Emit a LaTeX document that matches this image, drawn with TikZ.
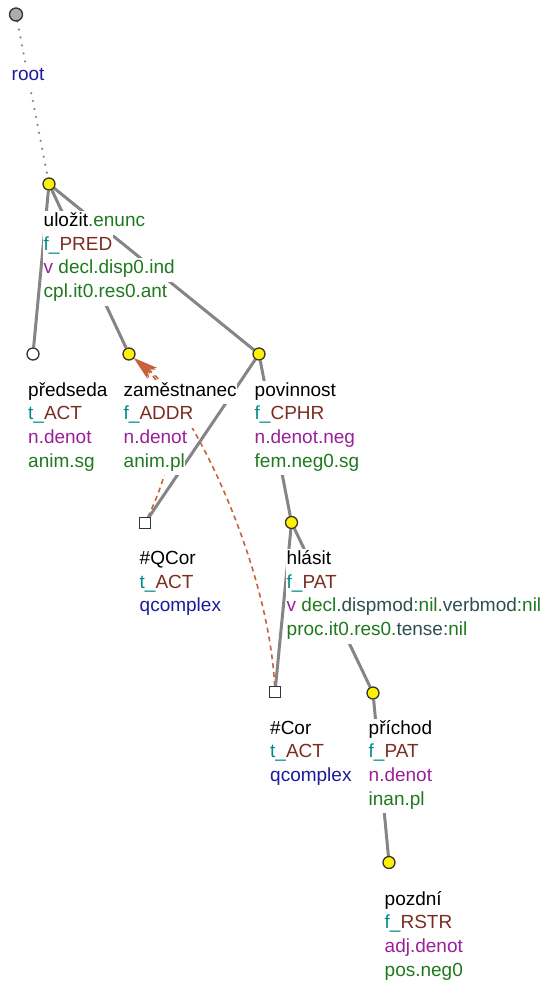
\documentclass[tikz,border=0pt]{standalone}
\usepackage{fontspec}
\setmainfont{Liberation Sans}
\usetikzlibrary{arrows.meta}
\definecolor{tcyan}{HTML}{008B8B}
\definecolor{tbrown}{HTML}{7B2D22}
\definecolor{tpurple}{HTML}{9B1F9B}
\definecolor{tgreen}{HTML}{1F7A1F}
\definecolor{tdark}{HTML}{2F4F4F}
\definecolor{tblue}{HTML}{1C1C9A}
\definecolor{edgegray}{HTML}{858585}
\definecolor{corefred}{HTML}{C8623C}
\pgfdeclarelayer{bg}
\pgfsetlayers{bg,main}

\begin{document}
\begin{tikzpicture}[x=1pt, y=-1pt, font=\fontsize{19}{23.7}\selectfont,
    tnode/.style={circle, draw=black!80, fill=yellow, line width=1.3pt, minimum size=12pt, inner sep=0pt},
    leafnode/.style={tnode, fill=white},
    rootnode/.style={tnode, fill=gray!65, minimum size=13pt},
    corsq/.style={rectangle, draw=black!80, fill=white, line width=1.2pt, minimum size=10.5pt, inner sep=0pt},
    tline/.style={anchor=base west, inner xsep=0.5pt, inner ysep=0pt, fill=white, text height=15.5pt, text depth=8.2pt},
    treeline/.style={draw=edgegray, line width=3pt},
    rootline/.style={draw=edgegray, line width=2.4pt, line cap=round, dash pattern=on 0.1pt off 8pt},
    coref/.style={draw=corefred, line width=1.6pt, dash pattern=on 5pt off 4pt, -{Stealth[length=24pt, width=13pt, inset=7pt, fill=corefred]}}]
  \useasboundingbox (0,0) rectangle (547,983);

  % tree nodes
  \node[rootnode] (root) at (16,14.5) {};
  \node[tnode] (ulozit) at (49,184) {};
  \node[leafnode] (predseda) at (33,354) {};
  \node[tnode] (zam) at (129,354) {};
  \node[tnode] (povin) at (259,354) {};
  \node[corsq] (qcor) at (145,523) {};
  \node[tnode] (hlasit) at (291.5,522.5) {};
  \node[corsq] (cor) at (275,692) {};
  \node[tnode] (prichod) at (373,693) {};
  \node[tnode] (pozdni) at (389,862.5) {};

  % labels
  \node[tline, text=tblue] (rootA) at (11,80) {root};

  \node[tline] (ulozitA) at (43,226.5) {uložit\textcolor{tgreen}{.enunc}};
  \node[tline] (ulozitB) at (43,250.2) {\textcolor{tcyan}{f\_}\textcolor{tbrown}{PRED}};
  \node[tline] (ulozitC) at (43,273.9) {\textcolor{tpurple}{v} \textcolor{tgreen}{decl.disp0.ind}};
  \node[tline, text=tgreen] (ulozitD) at (43,297.6) {cpl.it0.res0.ant};

  \node[tline] (predsedaA) at (27.5,396) {předseda};
  \node[tline] (predsedaB) at (27.5,419.7) {\textcolor{tcyan}{t\_}\textcolor{tbrown}{ACT}};
  \node[tline, text=tpurple] (predsedaC) at (27.5,443.4) {n.denot};
  \node[tline, text=tgreen] (predsedaD) at (27.5,467.1) {anim.sg};

  \node[tline] (zamA) at (123,396) {zaměstnanec};
  \node[tline] (zamB) at (123,419.7) {\textcolor{tcyan}{f\_}\textcolor{tbrown}{ADDR}};
  \node[tline, text=tpurple] (zamC) at (123,443.4) {n.denot};
  \node[tline, text=tgreen] (zamD) at (123,467.1) {anim.pl};

  \node[tline] (povinA) at (254,396) {povinnost};
  \node[tline] (povinB) at (254,419.7) {\textcolor{tcyan}{f\_}\textcolor{tbrown}{CPHR}};
  \node[tline, text=tpurple] (povinC) at (254,443.4) {n.denot.neg};
  \node[tline, text=tgreen] (povinD) at (254,467.1) {fem.neg0.sg};

  \node[tline] (qcorA) at (139,564.5) {\#QCor};
  \node[tline] (qcorB) at (139,588.2) {\textcolor{tcyan}{t\_}\textcolor{tbrown}{ACT}};
  \node[tline, text=tblue] (qcorC) at (139,611.9) {qcomplex};

  \node[tline] (hlasitA) at (286,564.5) {hlásit};
  \node[tline] (hlasitB) at (286,588.2) {\textcolor{tcyan}{f\_}\textcolor{tbrown}{PAT}};
  \node[tline] (hlasitC) at (286,611.9) {\textcolor{tpurple}{v} \textcolor{tgreen}{decl.}\textcolor{tdark}{dispmod}\textcolor{tgreen}{:nil.}\textcolor{tdark}{verbmod}\textcolor{tgreen}{:nil}};
  \node[tline] (hlasitD) at (286,635.6) {\textcolor{tgreen}{proc.it0.res0.}\textcolor{tdark}{tense:}\textcolor{tgreen}{nil}};

  \node[tline] (corA) at (269.5,734) {\#Cor};
  \node[tline] (corB) at (269.5,757.7) {\textcolor{tcyan}{t\_}\textcolor{tbrown}{ACT}};
  \node[tline, text=tblue] (corC) at (269.5,781.4) {qcomplex};

  \node[tline] (prichodA) at (368,734) {příchod};
  \node[tline] (prichodB) at (368,757.7) {\textcolor{tcyan}{f\_}\textcolor{tbrown}{PAT}};
  \node[tline, text=tpurple] (prichodC) at (368,781.4) {n.denot};
  \node[tline, text=tgreen] (prichodD) at (368,805.1) {inan.pl};

  \node[tline] (pozdniA) at (384,905) {pozdní};
  \node[tline] (pozdniB) at (384,928.7) {\textcolor{tcyan}{f\_}\textcolor{tbrown}{RSTR}};
  \node[tline, text=tpurple] (pozdniC) at (384,952.4) {adj.denot};
  \node[tline, text=tgreen] (pozdniD) at (384,976.1) {pos.neg0};

  % edges under the labels
  \begin{pgfonlayer}{bg}
    \draw[coref] (qcor) .. controls (185,440) and (172,392) .. (zam);
    \draw[coref] (cor) .. controls (268,560) and (190,402) .. (zam);
    \draw[rootline] (root) -- (ulozit);
    \draw[treeline] (ulozit) -- (predseda);
    \draw[treeline] (ulozit) -- (zam);
    \draw[treeline] (ulozit) -- (povin);
    \draw[treeline] (povin) -- (qcor);
    \draw[treeline] (povin) -- (hlasit);
    \draw[treeline] (hlasit) -- (cor);
    \draw[treeline] (hlasit) -- (prichod);
    \draw[treeline] (prichod) -- (pozdni);
  \end{pgfonlayer}
\end{tikzpicture}
\end{document}
